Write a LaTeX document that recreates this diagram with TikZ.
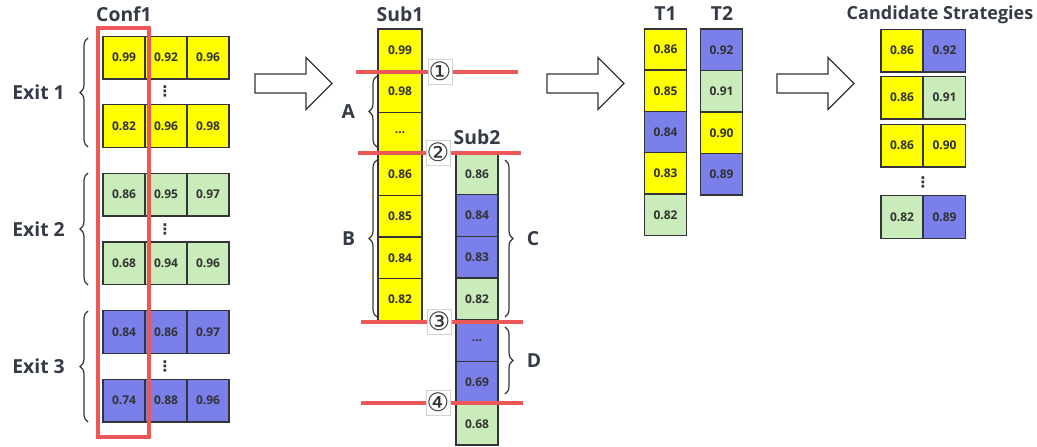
\documentclass[tikz,border=0pt]{standalone}
\usepackage{fontspec}
\setmainfont{Open Sans}
\newfontfamily\circFont{DejaVu Sans}
\usetikzlibrary{calc, positioning, decorations.pathreplacing}

\definecolor{cYellow}{RGB}{255,255,0}
\definecolor{cGreen}{RGB}{201,236,186}
\definecolor{cBlue}{RGB}{123,127,234}
\definecolor{cRed}{RGB}{236,88,88}
\definecolor{cBorder}{RGB}{50,52,56}
\definecolor{cText}{RGB}{50,50,50}
\definecolor{cLabel}{RGB}{52,58,70}

\newcommand{\gapDots}{...}

\tikzset{
    cell/.style={draw=cBorder, line width=1pt, minimum width=31.5pt, minimum height=31.2pt,
        inner sep=0pt, outer sep=0pt, text=cText, font=\fontsize{9}{10}\selectfont\bfseries},
    confCell/.style={cell, minimum height=32pt},
    title/.style={text=cLabel, font=\fontsize{14.5}{16}\selectfont\bfseries, inner sep=0pt},
    brace/.style={decorate, decoration={brace, amplitude=6pt}, draw=cBorder, line width=0.9pt},
    cutLine/.style={draw=cRed, line width=3pt},
    cutMark/.style={draw=gray!35, fill=white, line width=0.5pt, inner xsep=0.5pt, inner ysep=2.5pt,
        text height=13pt, text depth=0.5pt,
        text=cText, font=\circFont\fontsize{19}{19}\selectfont},
    vDots/.style={text=cText, inner sep=0pt, font=\circFont\fontsize{11}{11}\selectfont\bfseries},
    hollowArrow/.pic={
        \draw[draw=cBorder, line width=1pt, fill=white, line join=miter]
            (0,-9.5) -- (51,-9.5) -- (51,-26) -- (77,0) -- (51,26) -- (51,9.5) -- (0,9.5) -- cycle;
    }
}

\begin{document}
\begin{tikzpicture}[x=0.75pt, y=-0.75pt]
        \useasboundingbox (0,0) rectangle (1037,446);

        % Conf1 grid
        \foreach \a/\b/\c/\fc [count=\r] in
        {0.99/0.92/0.96/cYellow, 0.82/0.96/0.98/cYellow,
            0.86/0.95/0.97/cGreen, 0.68/0.94/0.96/cGreen,
            0.84/0.86/0.97/cBlue, 0.74/0.88/0.96/cBlue}
        {
            \pgfmathsetmacro{\yc}{57.5 + (\r-1)*68.6}
            \node[confCell, fill=\fc] (conf\r a) at (124, \yc) {\a};
            \node[confCell, fill=\fc] (conf\r b) at (166, \yc) {\b};
            \node[confCell, fill=\fc] (conf\r c) at (208, \yc) {\c};
        };
        \node[vDots] (confDotsA) at (165, 91) {⋮};
        \node[vDots] (confDotsB) at (165, 229) {⋮};
        \node[vDots] (confDotsC) at (165, 366) {⋮};

        \draw[cRed, line width=3pt] (98,28) rectangle (149,437);
        \node[title] (confTitle) at (124, 14) {Conf1};

        \draw[brace] (88,147) -- (88,38) node[title, midway, left=17pt] (exitA) {Exit 1};
        \draw[brace] (88,285) -- (88,173) node[title, midway, left=17pt] (exitB) {Exit 2};
        \draw[brace] (88,422) -- (88,311) node[title, midway, left=17pt] (exitC) {Exit 3};

        % arrows between the stages
        \pic at (255, 83.5) {hollowArrow};
        \pic at (547, 83.5) {hollowArrow};
        \pic at (777, 83.5) {hollowArrow};

        % Sub1 and Sub2
        \foreach \v/\fc [count=\i] in
        {0.99/cYellow, 0.98/cYellow, \gapDots/cYellow, 0.86/cYellow,
            0.85/cYellow, 0.84/cYellow, 0.82/cYellow}
        {
            \node[cell, fill=\fc, minimum width=33pt] (subA\i) at (400, 29 + \i*41.6 - 20.8) {\v};
        };
        \foreach \v/\fc [count=\i] in
        {0.86/cGreen, 0.84/cBlue, 0.83/cBlue, 0.82/cGreen,
            \gapDots/cBlue, 0.69/cBlue, 0.68/cGreen}
        {
            \node[cell, fill=\fc] (subB\i) at (477, 153 + \i*41.7 - 20.85) {\v};
        };
        \node[title] (subATitle) at (400, 14) {Sub1};
        \node[title] (subBTitle) at (477, 137) {Sub2};

        % cut lines
        \coordinate (cutAL) at (356,72);  \coordinate (cutAR) at (518,72);
        \coordinate (cutBL) at (358,153); \coordinate (cutBR) at (521,153);
        \coordinate (cutCL) at (361,322); \coordinate (cutCR) at (523,322);
        \coordinate (cutDL) at (361,403); \coordinate (cutDR) at (523,403);
        \foreach \u in {A, B, C, D}
        {
            \draw[cutLine] (cut\u L) -- (cut\u R);
        };
        \node[cutMark] (markA) at (440,72) {①};
        \node[cutMark] (markB) at (438,153) {②};
        \node[cutMark] (markC) at (439,322) {③};
        \node[cutMark] (markD) at (438,403) {④};

        \draw[brace] (377,147) -- (377,76) node[title, midway, left=16pt] (labA) {A};
        \draw[brace] (377,317) -- (377,160) node[title, midway, left=16pt] (labB) {B};
        \draw[brace] (505,160) -- (505,317) node[title, midway, right=16pt] (labC) {C};
        \draw[brace] (505,327) -- (505,394) node[title, midway, right=16pt] (labD) {D};

        % T1 and T2
        \foreach \v/\fc [count=\i] in
        {0.86/cYellow, 0.85/cYellow, 0.84/cBlue, 0.83/cYellow, 0.82/cGreen}
        {
            \node[cell, fill=\fc] (tA\i) at (665.5, 29 + \i*41.3 - 20.65) {\v};
        };
        \foreach \v/\fc [count=\i] in
        {0.92/cBlue, 0.91/cGreen, 0.90/cYellow, 0.89/cBlue}
        {
            \node[cell, fill=\fc] (tB\i) at (721.5, 29 + \i*41.5 - 20.75) {\v};
        };
        \node[title] (tATitle) at (665.5, 14) {T1};
        \node[title] (tBTitle) at (722, 14) {T2};

        % candidate strategies
        \foreach \a/\fa/\b/\fb/\y [count=\r] in
        {0.86/cYellow/0.92/cBlue/50.5, 0.86/cYellow/0.91/cGreen/97.5,
            0.86/cYellow/0.90/cYellow/145.5, 0.82/cGreen/0.89/cBlue/217}
        {
            \node[confCell, fill=\fa] (candA\r) at (902, \y) {\a};
            \node[confCell, fill=\fb] (candB\r) at (944.5, \y) {\b};
        };
        \node[vDots] (candDots) at (923, 182) {⋮};
        \node[title, font=\fontsize{13.5}{15}\selectfont\bfseries] (candTitle) at (940, 15) {Candidate Strategies};

        \end{tikzpicture}
\end{document}
